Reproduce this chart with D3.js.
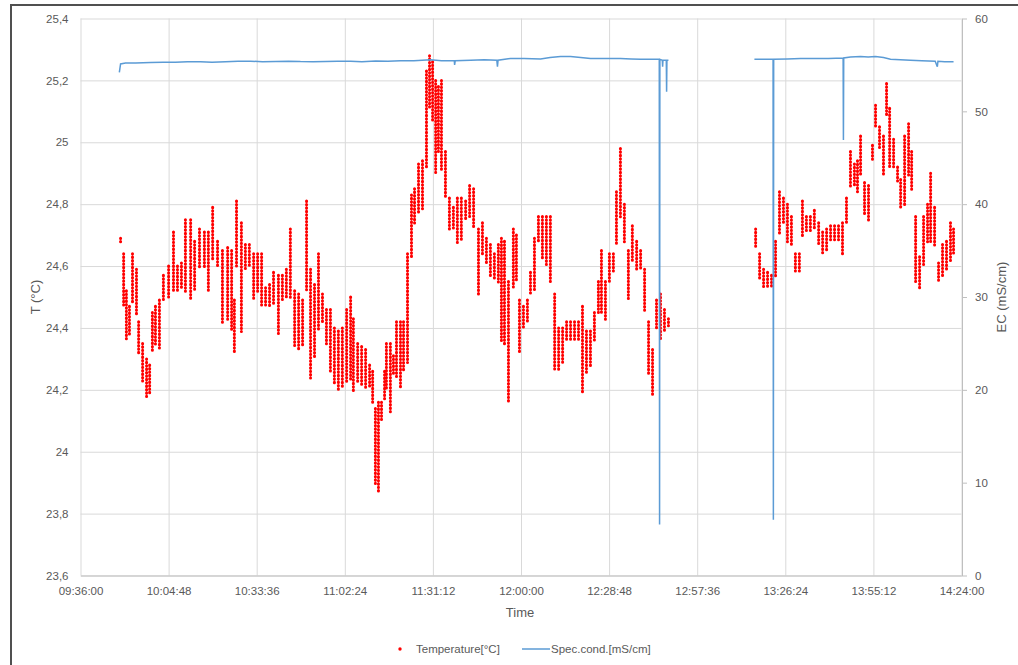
<!DOCTYPE html>
<html>
<head>
<meta charset="utf-8">
<script src="https://cdn.jsdelivr.net/npm/d3@7"></script>
<style>
    body { margin: 0; background: #fff; }
    text { font-family: "Liberation Sans", Arial, sans-serif; fill: #595959; }
</style>
</head>
<body>
<script>
// minutes after 09:36:00 for each temperature column, with the highest / lowest reading in it
var tempMinutes = [13.1, 14.1, 15.0, 16.0, 17.0, 18.3, 19.0, 20.3, 21.6, 22.6, 23.5, 24.5, 25.8, 27.1, 28.8, 30.4, 31.7, 33.0, 34.3, 36.0,
    37.3, 38.9, 40.5, 41.8, 43.2, 44.8, 46.4, 48.1, 49.4, 50.3, 51.0, 52.6, 53.9, 55.2, 56.6, 57.9, 59.2, 60.5, 61.8, 63.1,
    64.7, 66.0, 67.3, 68.6, 70.0, 71.3, 72.6, 73.9, 75.2, 76.5, 77.8, 79.1, 80.4, 81.7, 83.0, 84.3, 85.6, 87.0, 88.3, 89.2,
    90.6, 91.9, 93.2, 94.5, 95.5, 96.4, 97.4, 98.4, 99.4, 100.0, 101.3, 102.3, 103.3, 104.6, 105.6, 106.9, 108.2, 109.2, 110.5, 111.8,
    113.1, 114.1, 115.1, 116.1, 117.0, 118.0, 119.3, 120.6, 121.9, 123.2, 124.5, 125.9, 127.2, 128.5, 130.1, 131.4, 132.7, 134.0, 135.3, 136.6,
    137.6, 138.6, 139.9, 141.5, 142.5, 143.5, 144.8, 146.1, 147.1, 148.4, 149.7, 151.0, 152.3, 153.6, 155.0, 156.3, 157.6, 158.9, 160.2, 161.5,
    162.8, 164.1, 165.4, 166.7, 168.0, 169.3, 170.3, 171.6, 172.9, 174.2, 175.2, 176.5, 177.8, 179.1, 180.4, 181.8, 183.1, 184.4, 185.7, 187.0,
    188.3, 189.6, 190.9, 192.2,
    220.7, 222.0, 223.3, 224.6, 225.9, 227.2, 228.5, 229.8, 231.1, 232.4, 233.7, 235.0, 236.0, 237.3, 238.6, 239.9, 241.3, 242.6, 243.9, 245.2,
    246.5, 247.8, 249.1, 250.4, 251.7, 253.0, 254.0, 255.0, 256.3, 257.6, 258.9, 259.9, 261.2, 262.5, 263.5, 264.5, 265.8, 267.1, 268.1, 269.4,
    270.7, 271.7, 273.0, 274.3, 275.6, 276.9, 277.9, 279.2, 280.5, 281.8, 283.1, 284.4, 285.4];
var tempHigh = [24.69, 24.64, 24.52, 24.47, 24.64, 24.59, 24.42, 24.35, 24.30, 24.28, 24.45, 24.47, 24.49, 24.57, 24.60, 24.71, 24.60, 24.61, 24.75, 24.75,
    24.68, 24.72, 24.71, 24.71, 24.79, 24.68, 24.65, 24.66, 24.65, 24.49, 24.81, 24.74, 24.67, 24.67, 24.64, 24.64, 24.64, 24.53, 24.54, 24.58,
    24.57, 24.57, 24.59, 24.72, 24.52, 24.51, 24.49, 24.81, 24.59, 24.54, 24.64, 24.51, 24.46, 24.46, 24.40, 24.39, 24.40, 24.46, 24.50, 24.43,
    24.35, 24.34, 24.33, 24.28, 24.26, 24.14, 24.16, 24.16, 24.26, 24.35, 24.35, 24.31, 24.42, 24.42, 24.42, 24.64, 24.83, 24.85, 24.93, 24.94,
    25.23, 25.28, 25.26, 25.20, 25.18, 25.20, 24.97, 24.82, 24.79, 24.82, 24.82, 24.81, 24.86, 24.85, 24.72, 24.74, 24.69, 24.67, 24.64, 24.67,
    24.69, 24.68, 24.55, 24.72, 24.70, 24.49, 24.47, 24.49, 24.58, 24.69, 24.76, 24.76, 24.76, 24.76, 24.51, 24.40, 24.40, 24.42, 24.42, 24.42,
    24.42, 24.47, 24.39, 24.39, 24.45, 24.55, 24.65, 24.55, 24.64, 24.64, 24.84, 24.98, 24.80, 24.65, 24.73, 24.68, 24.65, 24.59, 24.42, 24.33,
    24.49, 24.51, 24.46, 24.43,
    24.72, 24.64, 24.59, 24.58, 24.57, 24.68, 24.84, 24.82, 24.80, 24.76, 24.64, 24.64, 24.81, 24.76, 24.76, 24.78, 24.74, 24.71, 24.72, 24.73,
    24.73, 24.73, 24.74, 24.82, 24.97, 24.93, 24.94, 25.02, 24.87, 24.86, 24.99, 25.12, 25.05, 25.02, 25.19, 25.11, 25.01, 24.92, 24.88, 25.02,
    25.06, 24.97, 24.76, 24.63, 24.76, 24.80, 24.90, 24.79, 24.61, 24.67, 24.68, 24.74, 24.72];
var tempLow = [24.68, 24.47, 24.36, 24.38, 24.48, 24.44, 24.32, 24.23, 24.18, 24.19, 24.32, 24.34, 24.33, 24.49, 24.50, 24.52, 24.52, 24.53, 24.52, 24.49,
    24.52, 24.59, 24.60, 24.52, 24.62, 24.60, 24.42, 24.43, 24.39, 24.32, 24.60, 24.39, 24.59, 24.60, 24.49, 24.52, 24.47, 24.47, 24.47, 24.48,
    24.38, 24.49, 24.50, 24.50, 24.34, 24.33, 24.34, 24.52, 24.24, 24.30, 24.39, 24.42, 24.35, 24.26, 24.22, 24.20, 24.21, 24.22, 24.23, 24.19,
    24.22, 24.21, 24.21, 24.21, 24.16, 23.89, 23.87, 24.10, 24.17, 24.20, 24.13, 24.25, 24.24, 24.21, 24.26, 24.29, 24.63, 24.74, 24.77, 24.78,
    24.92, 25.11, 25.07, 24.90, 24.97, 24.91, 24.82, 24.72, 24.72, 24.67, 24.68, 24.75, 24.76, 24.72, 24.51, 24.64, 24.61, 24.57, 24.56, 24.55,
    24.36, 24.35, 24.16, 24.53, 24.55, 24.32, 24.40, 24.42, 24.51, 24.52, 24.68, 24.62, 24.60, 24.55, 24.26, 24.26, 24.29, 24.36, 24.36, 24.36,
    24.36, 24.19, 24.25, 24.28, 24.36, 24.45, 24.45, 24.43, 24.55, 24.58, 24.67, 24.76, 24.68, 24.49, 24.62, 24.59, 24.59, 24.45, 24.25, 24.18,
    24.40, 24.36, 24.39, 24.40,
    24.66, 24.56, 24.53, 24.53, 24.53, 24.57, 24.70, 24.74, 24.68, 24.67, 24.58, 24.58, 24.70, 24.71, 24.71, 24.72, 24.67, 24.64, 24.65, 24.68,
    24.68, 24.68, 24.64, 24.74, 24.86, 24.86, 24.84, 24.89, 24.77, 24.75, 24.94, 25.05, 24.98, 24.89, 25.09, 24.92, 24.92, 24.87, 24.79, 24.80,
    24.89, 24.85, 24.55, 24.53, 24.60, 24.68, 24.68, 24.66, 24.55, 24.57, 24.59, 24.61, 24.64];

// specific conductance line, null = logger gap
var ecMinutes = [12.7, 13.1, 14.7, 18.0, 22.9, 27.0, 31.0, 35.0, 39.2, 43.0, 47.4, 51.5, 55.6, 59.5, 63.8, 68.0, 71.9, 76.0, 80.1, 84.0,
    88.3, 92.0, 96.5, 100.5, 104.6, 109.0, 114.4, 118.0, 121.0, 122.2, 122.3, 122.5, 127.5, 132.0, 136.1, 136.3, 136.5, 140.6, 145.0, 150.4,
    153.5, 156.9, 160.2, 163.5, 166.7, 171.5, 176.5, 180.0, 183.1, 188.0, 189.2, 189.3, 189.4, 190.2, 190.3, 190.4, 191.5, 191.6, 191.7, 192.2,
    200.0,
    220.3, 223.5, 226.4, 226.5, 226.6, 231.0, 235.4, 240.0, 244.5, 249.3, 249.4, 249.5, 251.7, 255.0, 257.5, 259.9, 262.5, 264.8, 268.0, 271.3,
    275.0, 279.4, 280.1, 280.3, 282.5, 285.4];
var ecValues = [54.2, 55.1, 55.2, 55.2, 55.25, 55.3, 55.3, 55.35, 55.35, 55.3, 55.35, 55.4, 55.4, 55.35, 55.38, 55.4, 55.36, 55.35, 55.38, 55.4,
    55.4, 55.35, 55.42, 55.4, 55.45, 55.45, 55.55, 55.45, 55.45, 55.45, 55.0, 55.45, 55.5, 55.55, 55.5, 54.8, 55.5, 55.7, 55.7, 55.65,
    55.8, 55.9, 55.9, 55.8, 55.7, 55.7, 55.7, 55.65, 55.6, 55.6, 55.6, 5.5, 55.6, 55.5, 54.8, 55.5, 55.5, 52.1, 55.5, 55.5,
    null,
    55.6, 55.6, 55.6, 6.0, 55.6, 55.65, 55.7, 55.7, 55.7, 55.75, 46.9, 55.75, 55.85, 55.9, 55.85, 55.9, 55.8, 55.6, 55.55, 55.5,
    55.45, 55.4, 54.8, 55.4, 55.35, 55.35];

var tempTicks = [23.6, 23.8, 24, 24.2, 24.4, 24.6, 24.8, 25, 25.2, 25.4];
var ecTicks = [0, 10, 20, 30, 40, 50, 60];
var tickCount = 11; // 09:36:00 ... 14:24:00, every 28:48

var width = 1018,
    height = 665;
var svg = d3.select("body")
    .append("svg")
    .attr("width", width)
    .attr("height", height);

// outer frame
svg.append("rect")
    .attr("x", 11).attr("y", 5)
    .attr("width", 1020).attr("height", 680)
    .attr("fill", "#fff")
    .attr("stroke", "#505050")
    .attr("stroke-width", 2);

var base = new Date(2000, 0, 1, 9, 36, 0);
function toDate(m) { return new Date(base.getTime() + m * 60000); }
var xTicks = d3.range(tickCount).map(function (i) { return toDate(i * 28.8); });

var x = d3.scaleTime().domain([xTicks[0], xTicks[tickCount - 1]]).range([80.5, 961.5]);
var y = d3.scaleLinear().domain([23.6, 25.4]).range([575.5, 18.5]);
var y2 = d3.scaleLinear().domain([0, 60]).range([575.5, 18.5]);

// grid
svg.append("g")
    .attr("transform", "translate(0,575.5)")
    .call(d3.axisBottom(x).tickValues(xTicks).tickSize(-557).tickFormat(""))
    .call(function (g) {
        g.select(".domain").remove();
        g.selectAll("line").attr("stroke", "#d9d9d9");
    });
svg.append("g")
    .attr("transform", "translate(80.5,0)")
    .call(d3.axisLeft(y).tickValues(tempTicks).tickSize(-881).tickFormat(""))
    .call(function (g) {
        g.select(".domain").remove();
        g.selectAll("line").attr("stroke", "#d9d9d9");
    });

// axes
var fmtTemp = function (d) { return String(+d.toFixed(1)).replace(".", ","); };
svg.append("g")
    .attr("transform", "translate(80.5,0)")
    .call(d3.axisLeft(y).tickValues(tempTicks).tickSize(0).tickPadding(12).tickFormat(fmtTemp))
    .call(function (g) {
        g.select(".domain").remove();
        g.selectAll("text").style("font-size", "11.5px");
    });
svg.append("g")
    .attr("transform", "translate(0,575.5)")
    .call(d3.axisBottom(x).tickValues(xTicks).tickSize(0).tickPadding(11).tickFormat(d3.timeFormat("%H:%M:%S")))
    .call(function (g) {
        g.select(".domain").attr("stroke", "#bfbfbf");
        g.selectAll("text").style("font-size", "11.5px");
    });
svg.append("g")
    .attr("transform", "translate(962,0)")
    .call(d3.axisRight(y2).tickValues(ecTicks).tickSize(5).tickSizeOuter(0).tickPadding(8))
    .call(function (g) {
        g.select(".domain").attr("stroke", "#bfbfbf");
        g.selectAll("line").attr("stroke", "#bfbfbf");
        g.selectAll("text").style("font-size", "11.5px");
    });

// axis titles
svg.append("text")
    .attr("transform", "translate(40,297) rotate(-90)")
    .attr("text-anchor", "middle")
    .style("font-size", "13px")
    .text("T (°C)");
svg.append("text")
    .attr("transform", "translate(1006,297) rotate(-90)")
    .attr("text-anchor", "middle")
    .style("font-size", "13px")
    .text("EC (mS/cm)");
svg.append("text")
    .attr("x", 520).attr("y", 617)
    .attr("text-anchor", "middle")
    .style("font-size", "13px")
    .text("Time");

// temperature: columns of readings, drawn as rows of round dots
svg.append("g")
    .selectAll("line")
    .data(tempMinutes)
    .enter()
    .append("line")
    .attr("x1", function (d) { return x(toDate(d)); })
    .attr("x2", function (d) { return x(toDate(d)); })
    .attr("y1", function (d, i) { return y(tempHigh[i]); })
    .attr("y2", function (d, i) { return y(tempLow[i]) + 0.5; })
    .attr("stroke", "#ff0000")
    .attr("stroke-width", 3)
    .attr("stroke-linecap", "round")
    .attr("stroke-dasharray", "0.4,3");

// conductivity line
var ecLine = d3.line()
    .defined(function (d, i) { return ecValues[i] !== null; })
    .x(function (d) { return x(toDate(d)); })
    .y(function (d, i) { return y2(ecValues[i]); });
svg.append("path")
    .attr("d", ecLine(ecMinutes))
    .attr("fill", "none")
    .attr("stroke", "#5b9bd5")
    .attr("stroke-width", 1.5);

// legend
var legend = svg.append("g").attr("transform", "translate(0,649)");
legend.append("circle")
    .attr("cx", 400).attr("cy", 0)
    .attr("r", 1.7)
    .attr("fill", "#ff0000");
legend.append("text")
    .attr("x", 416).attr("y", 4)
    .style("font-size", "11.5px")
    .text("Temperature[°C]");
legend.append("line")
    .attr("x1", 522).attr("x2", 550)
    .attr("stroke", "#5b9bd5")
    .attr("stroke-width", 1.5);
legend.append("text")
    .attr("x", 551).attr("y", 4)
    .style("font-size", "11.5px")
    .text("Spec.cond.[mS/cm]");
</script>
</body>
</html>
